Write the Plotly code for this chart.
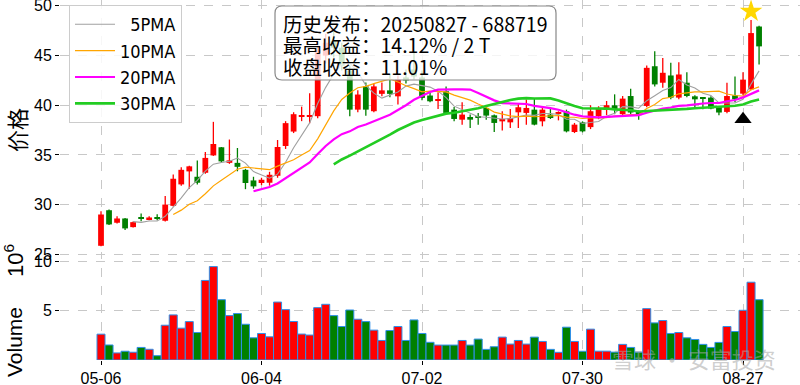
import plotly.graph_objects as go
import pandas as pd

# ---------------- data ----------------
opens = [25.85, 29.43, 28.17, 28.6, 27.73, 28.7, 28.53, 28.7, 28.37, 29.87,
         32.03, 33.34, 32.8, 33.2, 34.95, 35.77, 34.2, 34.2, 33.5, 32.43,
         32.17, 32.2, 32.9, 35.9, 37.35, 38.85, 38.85, 38.9, 45.0, 46.5,
         45.8, 43.5, 39.56, 41.9, 39.4, 41.15, 41.5, 40.9, 42.8, 43.6,
         42.8, 40.98, 40.44, 41.41, 39.56, 38.55, 38.82, 38.89, 39.73, 38.99,
         38.38, 38.28, 39.29, 39.23, 39.56, 38.38, 39.06, 39.16, 39.39, 37.31,
         38.28, 37.8, 38.9, 39.53, 40.0, 39.1, 40.93, 39.33, 39.93, 43.93,
         42.27, 43.0, 40.77, 42.27, 40.9, 40.77, 40.77, 39.87, 39.33, 41.0,
         41.17, 41.6, 47.93]
highs = [29.33, 29.5, 28.83, 28.65, 28.3, 29.1, 28.83, 29.03, 30.87, 33.03,
         33.77, 33.9, 34.45, 35.3, 38.33, 35.8, 36.55, 35.7, 33.6, 32.8,
         32.7, 33.3, 36.5, 38.4, 39.3, 39.86, 41.2, 46.0, 47.2, 47.5,
         46.3, 44.0, 41.5, 42.3, 42.2, 42.3, 43.1, 43.0, 43.6, 45.5,
         43.5, 41.25, 41.31, 41.9, 39.83, 40.3, 39.06, 39.23, 39.9, 39.06,
         39.39, 39.63, 40.24, 40.57, 40.64, 39.73, 39.73, 39.39, 39.56, 38.22,
         38.38, 40.0, 39.9, 40.43, 41.1, 40.93, 41.67, 39.5, 44.0, 45.43,
         44.77, 44.27, 44.33, 43.33, 41.0, 40.8, 40.9, 39.9, 42.27, 42.9,
         43.33, 48.59, 48.0]
lows = [25.8, 27.95, 28.1, 27.43, 27.7, 28.33, 28.43, 28.43, 28.3, 29.8,
        31.9, 31.6, 32.03, 33.1, 34.9, 34.2, 34.1, 33.35, 31.55, 31.6,
        31.95, 31.9, 32.7, 35.6, 37.2, 38.4, 38.2, 38.7, 44.2, 44.8,
        43.5, 38.9, 39.3, 38.95, 39.3, 40.9, 40.8, 40.07, 42.2, 42.6,
        40.5, 40.3, 39.63, 39.16, 38.38, 38.05, 37.71, 38.05, 38.55, 37.31,
        37.47, 37.71, 37.71, 38.05, 37.98, 37.88, 38.62, 38.48, 37.27, 37.2,
        37.27, 37.6, 38.6, 39.0, 39.1, 38.9, 39.1, 38.53, 39.8, 41.9,
        41.77, 40.6, 40.6, 40.8, 39.8, 39.6, 39.6, 39.0, 39.2, 40.3,
        41.0, 41.5, 44.1]
closes = [29.0, 28.0, 28.6, 27.6, 28.23, 28.6, 28.7, 28.57, 30.0, 32.6,
          33.5, 33.85, 32.2, 34.7, 36.1, 34.35, 34.45, 33.8, 32.17, 31.83,
          32.5, 33.0, 35.8, 38.2, 39.1, 39.02, 39.0, 45.6, 46.3, 45.8,
          44.0, 39.56, 41.08, 39.56, 41.9, 41.5, 41.15, 42.6, 42.5, 42.9,
          40.74, 40.4, 40.57, 39.23, 38.62, 39.06, 38.55, 38.75, 38.96, 38.22,
          38.62, 38.72, 39.8, 39.73, 38.05, 39.56, 38.72, 39.29, 37.37, 38.05,
          37.37, 39.4, 39.65, 40.0, 39.6, 40.67, 39.27, 39.0, 43.77, 42.1,
          43.27, 40.77, 43.1, 40.93, 40.6, 40.67, 39.67, 39.27, 40.93, 40.6,
          42.58, 47.27, 45.93]
volumes_m = [2.63, 1.53, 0.72, 0.89, 0.79, 1.28, 1.09, 0.44, 3.54, 4.59,
             3.24, 3.91, 2.8, 8.1, 9.51, 6.14, 4.52, 4.73, 3.64, 2.26,
             2.7, 2.36, 5.9, 5.13, 3.92, 2.64, 2.54, 5.33, 5.67, 4.52,
             3.41, 5.09, 4.15, 3.91, 3.04, 1.99, 3.0, 3.41, 1.99, 4.08,
             2.7, 1.8, 1.52, 1.52, 1.52, 1.99, 1.52, 2.13, 1.08, 1.35,
             2.33, 1.62, 1.99, 1.62, 2.33, 1.89, 1.08, 0.78, 3.34, 1.89,
             0.89, 3.14, 0.9, 0.9, 0.8, 1.59, 1.28, 0.8, 5.23, 3.78,
             4.02, 2.7, 2.8, 2.26, 2.09, 1.59, 1.28, 1.79, 3.41, 2.9,
             5.06, 7.92, 6.14]

tick_positions = [0, 20, 40, 60, 80]
tick_labels = ["05-06", "06-04", "07-02", "07-30", "08-27"]
price_ticks = [25, 30, 35, 40, 45, 50]
volume_ticks = [5, 10]

ma_windows = [5, 10, 20, 30]
ma_names = ["\u00a0\u00a05PMA", "10PMA", "20PMA", "30PMA"]
ma_colors = ["#a0a0a0", "#ffa500", "#ff00ff", "#22cc22"]
ma_widths = [1.1, 1.2, 2.2, 2.6]

signal_index = 80
signal_marker_price = 38.6
peak_index = 81
peak_marker_price = 49.45

info_lines = ["历史发布：20250827 - 688719",
              "最高收益：14.12% / 2 T",
              "收盘收益：11.01%"]

# ---------------- build ----------------
UP, DOWN = "#ff0000", "#008000"
n = len(closes)
xs = list(range(n))
colors = [UP if c >= o else DOWN for o, c in zip(opens, closes)]
body_base = [min(o, c) for o, c in zip(opens, closes)]
body_h = [max(abs(c - o), 0.07) for o, c in zip(opens, closes)]

fig = go.Figure()

# volume
fig.add_trace(go.Bar(x=xs, y=volumes_m, marker=dict(color=colors, line=dict(color="#2f8fe8", width=1)),
                     width=1.0, showlegend=False, xaxis="x", yaxis="y", hoverinfo="skip"))

# wicks
for col in (UP, DOWN):
    wx, wy = [], []
    for i in range(n):
        if colors[i] == col:
            wx += [i, i, None]
            wy += [lows[i], highs[i], None]
    fig.add_trace(go.Scatter(x=wx, y=wy, mode="lines", line=dict(color=col, width=1.3),
                             showlegend=False, xaxis="x2", yaxis="y2", hoverinfo="skip"))

# bodies
fig.add_trace(go.Bar(x=xs, y=body_h, base=body_base, marker=dict(color=colors, line=dict(width=0)),
                     width=0.72, showlegend=False, xaxis="x2", yaxis="y2", hoverinfo="skip"))

# moving averages
cs = pd.Series(closes)
for w, name, col, lw in zip(ma_windows, ma_names, ma_colors, ma_widths):
    ma = cs.rolling(w).mean()
    fig.add_trace(go.Scatter(x=xs, y=ma, mode="lines", name=name, line=dict(color=col, width=lw),
                             xaxis="x2", yaxis="y2"))

# markers
fig.add_trace(go.Scatter(x=[signal_index], y=[signal_marker_price], mode="markers",
                         marker=dict(symbol="triangle-up", size=15, color="black"),
                         showlegend=False, xaxis="x2", yaxis="y2"))
fig.add_trace(go.Scatter(x=[peak_index], y=[peak_marker_price], mode="markers",
                         marker=dict(symbol="star", size=17, color="#ffd700", line=dict(width=0)),
                         showlegend=False, xaxis="x2", yaxis="y2"))

W, H = 800, 385
ML, MR, MT, MB = 60, 0, 0, 25
PW, PH = W - ML - MR, H - MT - MB


def px(xp):
    return (xp - ML) / PW


def py(yp):
    return 1 - (yp - MT) / PH


grid = dict(showgrid=True, gridcolor="#c8c8c8", griddash="dash", gridwidth=1, zeroline=False,
            showline=False, automargin=False)
tickfont = dict(family="Liberation Sans, Arial, sans-serif", size=16, color="black")
xr = [-5.11, 87.1]

fig.update_layout(
    width=W, height=H, margin=dict(l=ML, r=MR, t=MT, b=MB, autoexpand=False),
    paper_bgcolor="white", plot_bgcolor="white", barmode="overlay",
    xaxis=dict(domain=[0, 1], anchor="y", range=xr, tickvals=tick_positions, ticktext=tick_labels,
               ticks="outside", ticklen=4, tickcolor="black", tickfont=tickfont, **grid),
    yaxis=dict(domain=[0, py(250)], anchor="x", range=[0, 11.2], tickvals=volume_ticks,
               ticks="outside", ticklen=4, tickcolor="black", tickfont=tickfont, **grid),
    xaxis2=dict(domain=[0, 1], anchor="y2", range=xr, tickvals=tick_positions, showticklabels=False,
                ticks="", **grid),
    yaxis2=dict(domain=[py(258), 1], anchor="x2", range=[24.62, 50.6], tickvals=price_ticks,
                ticks="outside", ticklen=4, tickcolor="black", tickfont=tickfont, **grid),
    legend=dict(x=px(69), y=py(5), xanchor="left", yanchor="top", bgcolor="rgba(255,255,255,0.85)",
                bordercolor="#cccccc", borderwidth=1, itemwidth=40,
                font=dict(family="DejaVu Sans Condensed, Liberation Sans Narrow, Liberation Sans, sans-serif",
                          size=18, color="black")),
    showlegend=True,
)

# top tick label (plotly drops the one that touches the page edge)
fig.add_annotation(text=str(price_ticks[-1]), xref="paper", yref="y2", x=px(54), y=price_ticks[-1],
                   xanchor="right", yanchor="middle", showarrow=False, font=tickfont)

# info box (rounded rectangle)
x0, x1 = px(275), px(556)
y0, y1 = py(80), py(6)
rx, ry = 7 / PW, 7 / PH
path = (f"M {x0+rx},{y1} L {x1-rx},{y1} Q {x1},{y1} {x1},{y1-ry} L {x1},{y0+ry} "
        f"Q {x1},{y0} {x1-rx},{y0} L {x0+rx},{y0} Q {x0},{y0} {x0},{y0+ry} "
        f"L {x0},{y1-ry} Q {x0},{y1} {x0+rx},{y1} Z")
fig.add_shape(type="path", path=path, xref="paper", yref="paper", layer="above",
              fillcolor="rgba(255,255,255,0.8)", line=dict(color="#888888", width=1.2))

for line, yc in zip(info_lines, [23, 44.5, 66]):
    fig.add_annotation(text=line, xref="paper", yref="paper", x=px(281), y=py(yc),
                       xanchor="left", yanchor="middle", showarrow=False,
                       font=dict(family="Noto Sans CJK SC", size=19.5, color="black"))

# axis titles
fig.add_annotation(text="价格", xref="paper", yref="paper", x=px(16), y=py(130), textangle=-90,
                   showarrow=False, xanchor="center", yanchor="middle",
                   font=dict(family="Noto Sans CJK SC", size=22, color="black"))
fig.add_annotation(text="Volume", xref="paper", yref="paper", x=px(14), y=py(342), textangle=-90,
                   showarrow=False, xanchor="center", yanchor="middle",
                   font=dict(family="Liberation Sans, Arial, sans-serif", size=21, color="black"))
fig.add_annotation(text="10<sup>6</sup>", xref="paper", yref="paper", x=px(14), y=py(261), textangle=-90,
                   showarrow=False, xanchor="center", yanchor="middle",
                   font=dict(family="Liberation Sans, Arial, sans-serif", size=22, color="black"))

# watermark
fig.add_annotation(text="雪球 · 安富投资", xref="paper", yref="paper", x=px(778), y=py(358),
                   xanchor="right", yanchor="middle", showarrow=False,
                   font=dict(family="Noto Sans CJK SC", size=22, color="rgba(165,165,165,0.55)"))

fig.write_html("out.html", config={"displayModeBar": False},
               post_script="document.body.style.margin='0';document.body.style.padding='0';")
